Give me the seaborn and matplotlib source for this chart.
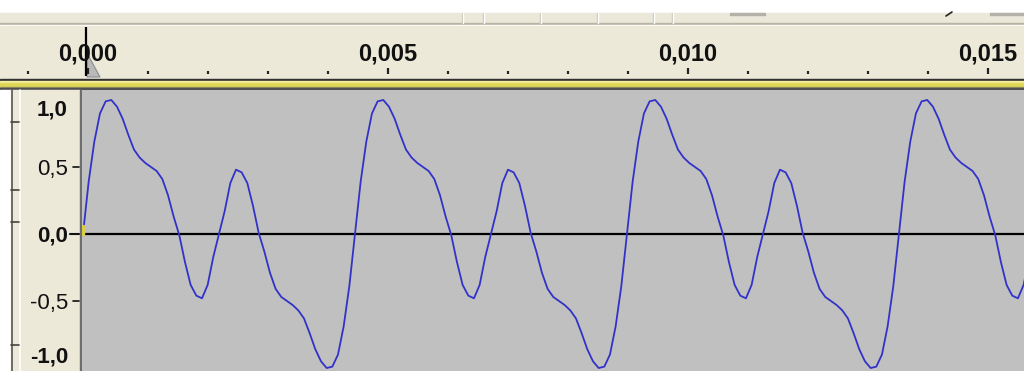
import numpy as np
import pandas as pd
import seaborn as sns
import matplotlib.pyplot as plt
from matplotlib.patches import Rectangle, Polygon

# one period of the tone (48 samples per cycle)
cycle_values = [0.00, 0.39, 0.69, 0.90, 0.99, 1.00, 0.95, 0.86,
                0.74, 0.63, 0.57, 0.53, 0.50, 0.47, 0.41, 0.29,
                0.13, -0.01, -0.21, -0.38, -0.46, -0.48, -0.38, -0.17,
                0.00, 0.17, 0.38, 0.48, 0.46, 0.38, 0.21, 0.01,
                -0.13, -0.29, -0.41, -0.47, -0.50, -0.53, -0.57, -0.63,
                -0.74, -0.86, -0.95, -1.00, -0.99, -0.90, -0.69, -0.39]
n_cycles = 4
period_s = 0.004533

ruler_major = [0.0, 0.005, 0.010, 0.015]
ruler_labels = ['0,000', '0,005', '0,010', '0,015']
ruler_minor = [-0.001, 0.001, 0.002, 0.003, 0.004, 0.006, 0.007, 0.008,
               0.009, 0.011, 0.012, 0.013, 0.014]

amp_ticks = [1.0, 0.5, 0.0, -0.5, -1.0]
amp_labels = ['1,0', '0,5', '0,0', '-0,5', '-1,0']
amp_bold = [True, False, True, False, True]

# wave table: the periodic cycle repeated
values = list(cycle_values) * n_cycles + [0.0]
dt = period_s / len(cycle_values)
wave = pd.DataFrame({'t': np.arange(len(values)) * dt, 'amp': values})

sns.set_theme(style='white')
plt.rcParams['font.family'] = ['Liberation Sans', 'DejaVu Sans']

W, H = 1024, 371
PX_PER_S = 60000.0
BEIGE = '#ece9d8'


def frac(x0, y0, x1, y1):
    return [x0 / W, 1 - y1 / H, (x1 - x0) / W, (y1 - y0) / H]


fig = plt.figure(figsize=(W / 100, H / 100), dpi=100)

# window chrome in pixel coordinates
bg = fig.add_axes([0, 0, 1, 1])
bg.set_xlim(0, W)
bg.set_ylim(H, 0)
bg.axis('off')
bg.add_patch(Rectangle((0, 0), W, 13, color='white'))
bg.add_patch(Rectangle((0, 13), W, 10, color='#ebe8da'))
for x in [462, 483, 540, 597, 653, 672]:
    bg.plot([x, x], [13, 23], color='#c8c4b4', lw=1)
    bg.plot([x + 1, x + 1], [13, 23], color='white', lw=1)
bg.add_patch(Rectangle((730, 13), 35, 2, color='#b4b2a8'))
bg.add_patch(Rectangle((990, 13), 34, 2, color='#b4b2a8'))
bg.plot([946, 952], [16, 12], color='#222222', lw=1.2)
bg.add_patch(Rectangle((0, 23), W, 1.5, color='#b8b4a2'))
bg.add_patch(Rectangle((0, 24.5), W, 1.5, color='white'))
bg.add_patch(Rectangle((0, 26), W, 53, color=BEIGE))
bg.add_patch(Rectangle((0, 78.5), W, 2.5, color='#303030'))
bg.add_patch(Rectangle((0, 81), W, 1.5, color='#f4ee9c'))
bg.add_patch(Rectangle((0, 82.5), W, 4.5, color='#e0d858'))
bg.add_patch(Rectangle((0, 87), W, 1.2, color='#9a9460'))
bg.add_patch(Rectangle((0, 88.2), W, 1.8, color='#505050'))
# track control panel
bg.add_patch(Rectangle((0, 90), 11, H - 90, color='white'))
bg.add_patch(Rectangle((11, 90), 69, H - 90, color=BEIGE))
bg.plot([11.5, 11.5], [90, H], color='#555555', lw=1.2)
bg.plot([19.5, 19.5], [90, H], color='white', lw=1.2)
for y in [122, 190, 222, 345]:
    bg.plot([11, 19], [y, y], color='#444444', lw=1.2)
bg.add_patch(Rectangle((80, 90), 2, H - 90, color='#6e6e6e'))

# ruler
ruler = fig.add_axes(frac(0, 26, W, 79))
ruler.set_xlim(-88 / PX_PER_S, (W - 88) / PX_PER_S)
ruler.set_ylim(53, 0)
ruler.axis('off')
ruler.vlines(ruler_minor, 45, 47.5, color='#222222', lw=1.6)
ruler.vlines(ruler_major, 42, 48, color='#222222', lw=1.6)
for t, lbl in zip(ruler_major, ruler_labels):
    ruler.text(t, 34.5, lbl, ha='center', va='baseline', fontsize=17,
               fontweight='bold', color='#111111')
ruler.add_patch(Polygon([(-1 / PX_PER_S, 27), (12 / PX_PER_S, 51),
                         (-1 / PX_PER_S, 51)], closed=True,
                        facecolor='#b9b9b9', edgecolor='#8c8c8c', lw=0.8))
ruler.vlines([-2 / PX_PER_S], 1, 50, color='black', lw=1.6)

# waveform track
ax = fig.add_axes(frac(82, 90, W, H))
ax.set_facecolor('#c0c0c0')
ax.axhline(0, color='black', lw=1.6, zorder=2)
sns.lineplot(data=wave, x='t', y='amp', ax=ax, color='#3232c8', lw=1.3,
             estimator=None, sort=False, zorder=3)
ax.set_xlim(-1 / PX_PER_S, (W - 83) / PX_PER_S)
ax.set_ylim(-1.0224, 1.0746)
ax.set_xlabel('')
ax.set_ylabel('')
ax.set_xticks([])
ax.set_yticks([])
for s in ax.spines.values():
    s.set_visible(False)

ytr = ax.get_yaxis_transform()
span = W - 82
for v, lbl, b in zip(amp_ticks, amp_labels, amp_bold):
    va = 'center_baseline'
    if v == max(amp_ticks):
        va = 'top'
    elif v == min(amp_ticks):
        va = 'bottom'
    ax.text(-14 / span, v, lbl, transform=ytr, ha='right', va=va,
            fontsize=16, fontweight='bold' if b else 'normal',
            color='#111111', clip_on=False)
    if v not in (max(amp_ticks), min(amp_ticks)):
        x0 = -12 / span if v == 0 else -9 / span
        ax.plot([x0, -3 / span], [v, v], transform=ytr, color='#111111',
                lw=1.5 if v == 0 else 1.2, clip_on=False)

# start-of-clip marker
ax.plot([0, 0], [0, 0.06], color='#d8d040', lw=2.5, zorder=4)

fig.savefig('out.png', dpi=100)
